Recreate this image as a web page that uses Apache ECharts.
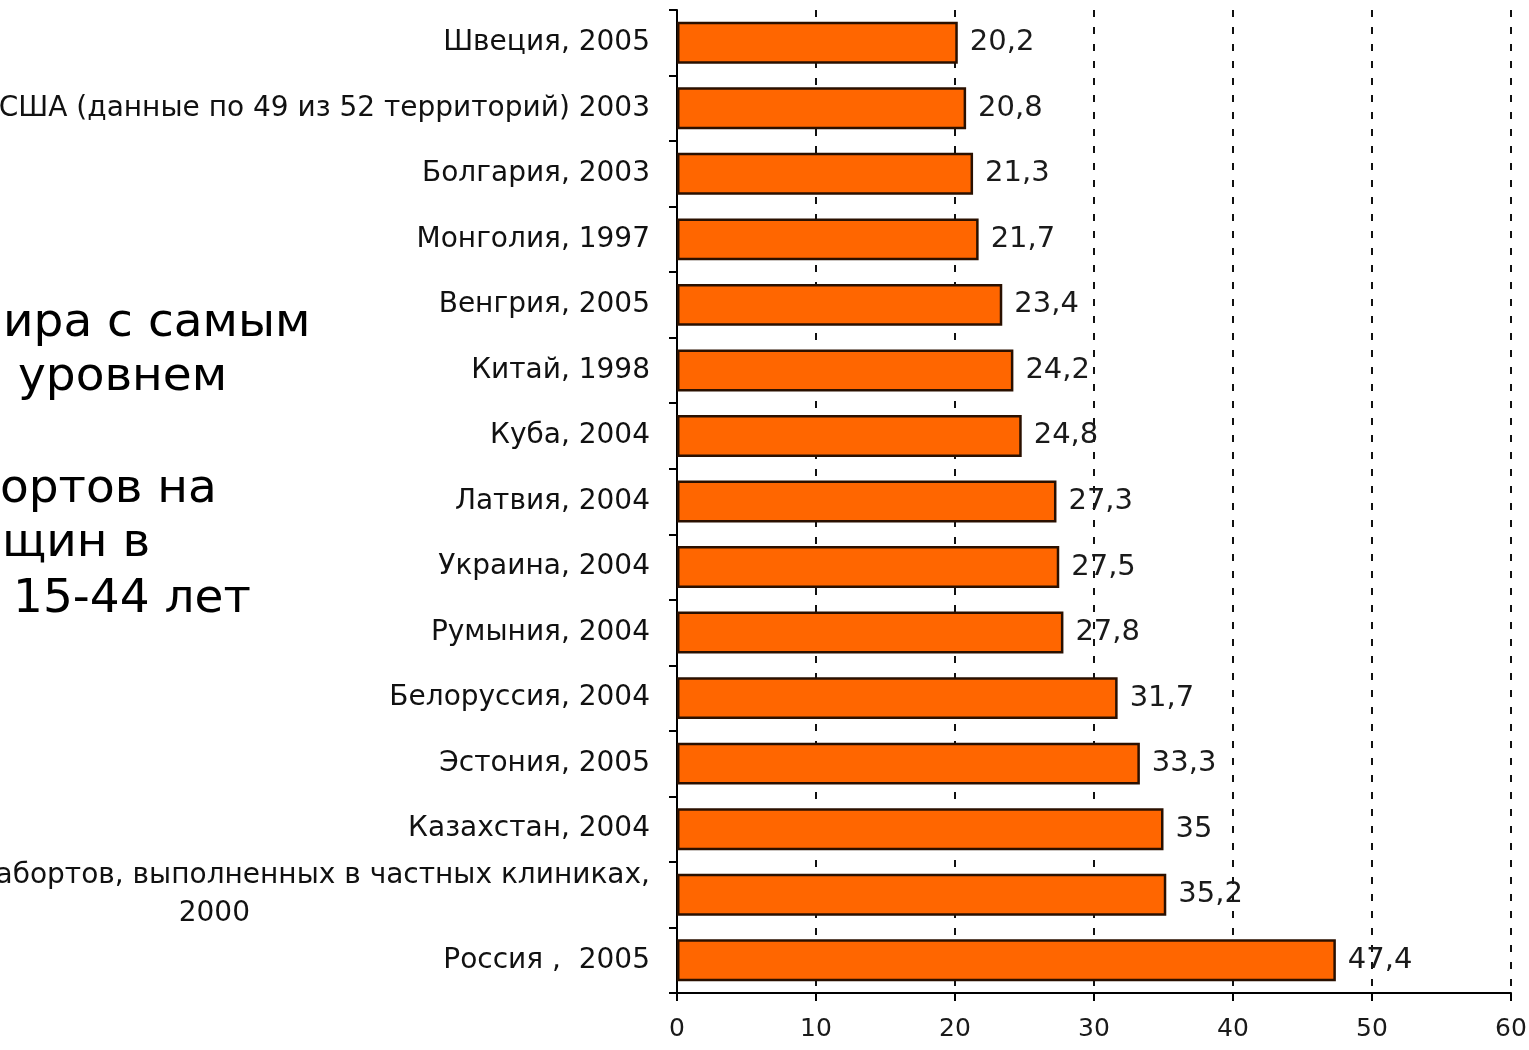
<!DOCTYPE html>
<html>
<head>
<meta charset="utf-8">
<title>Аборты на 1000 женщин</title>
<script src="https://cdn.jsdelivr.net/npm/echarts@6/dist/echarts.min.js"></script>
<style>
    html, body { margin: 0; padding: 0; background: #ffffff; }
    #barChart { width: 1529px; height: 1050px; }
</style>
</head>
<body>
<div id="barChart"></div>
<script>
// данные
const categories = [
    'Швеция, 2005',
    'США (данные по 49 из 52 территорий) 2003',
    'Болгария, 2003',
    'Монголия, 1997',
    'Венгрия, 2005',
    'Китай, 1998',
    'Куба, 2004',
    'Латвия, 2004',
    'Украина, 2004',
    'Румыния, 2004',
    'Белоруссия, 2004',
    'Эстония, 2005',
    'Казахстан, 2004',
    'абортов, выполненных в частных клиниках,\n2000',
    'Россия ,  2005'
];
const abortValues = [20.2, 20.8, 21.3, 21.7, 23.4, 24.2, 24.8, 27.3, 27.5, 27.8, 31.7, 33.3, 35, 35.2, 47.4];
const xTicks = [0, 10, 20, 30, 40, 50, 60];

// обрезанный текст слайда слева
const slideLines = ['ира с самым', 'уровнем', 'ортов на', 'щин в', '15-44 лет'];

let barChartDom = document.getElementById('barChart');
let barChart;

const slideX = [3, 18, 0, 2, 13];
const slideY = [327, 381, 493, 547, 603];

let barChartOption = {
    backgroundColor: '#ffffff',
    animation: false,
    textStyle: {
        fontFamily: 'DejaVu Sans'
    },
    graphic: slideLines.map((t, i) => ({
        type: 'text',
        left: slideX[i],
        top: slideY[i] - 27,
        style: {
            text: t,
            font: '47px "DejaVu Sans"',
            fill: '#000000'
        }
    })),
    grid: {
        left: 677,
        right: 18,
        top: 10,
        bottom: 57,
        containLabel: false,
        outerBoundsMode: 'none'
    },
    xAxis: {
        type: 'value',
        min: xTicks[0],
        max: xTicks[xTicks.length - 1],
        interval: 10,
        axisLine: {
            show: true,
            lineStyle: { color: '#000000', width: 2 }
        },
        axisTick: {
            show: true,
            length: 8,
            lineStyle: { color: '#000000', width: 2 }
        },
        axisLabel: {
            color: '#1a1a1a',
            fontSize: 25,
            margin: 24,
            fontFamily: 'DejaVu Sans'
        },
        splitLine: {
            show: true,
            lineStyle: { color: '#111111', width: 2, type: [7, 10] }
        }
    },
    yAxis: {
        type: 'category',
        inverse: true,
        data: categories,
        axisLine: {
            show: true,
            lineStyle: { color: '#000000', width: 2 }
        },
        axisTick: {
            show: true,
            length: 8,
            lineStyle: { color: '#000000', width: 2 }
        },
        axisLabel: {
            interval: 0,
            color: '#111111',
            fontSize: 28,
            margin: 27,
            fontFamily: 'DejaVu Sans',
            formatter: function (value) {
                if (value.indexOf('\n') < 0) return value;
                let parts = value.split('\n');
                return '{l1|' + parts[0] + '}\n{l2|' + parts[1] + '}';
            },
            rich: {
                l1: { fontSize: 28, lineHeight: 38, color: '#111111', fontFamily: 'DejaVu Sans' },
                l2: { fontSize: 28, lineHeight: 38, color: '#111111', fontFamily: 'DejaVu Sans', align: 'right', padding: [0, 400, 0, 0] }
            }
        },
        splitLine: { show: false }
    },
    series: [
        {
            name: 'Аборты',
            type: 'bar',
            barCategoryGap: '36%',
            data: abortValues,
            itemStyle: {
                color: '#ff6600',
                borderColor: '#2a1000',
                borderWidth: 2.5
            },
            label: {
                show: true,
                position: 'right',
                distance: 12,
                fontSize: 29,
                color: '#1a1a1a',
                fontFamily: 'DejaVu Sans',
                formatter: (p) => String(p.value).replace('.', ',')
            }
        }
    ]
};

function initBarChart() {
    if (barChart) barChart.dispose();
    barChart = echarts.init(barChartDom);
    barChart.setOption(barChartOption);
}
initBarChart();

window.addEventListener('resize', () => {
    barChart.resize();
});
</script>
</body>
</html>
